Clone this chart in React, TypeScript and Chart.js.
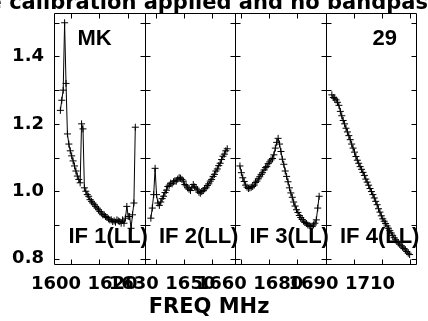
import React, { useEffect, useRef } from 'react';
import { Chart, registerables } from 'chart.js';

Chart.register(...registerables);

// ---- text ----
const TITLE = 'e calibration applied and no bandpass';
const X_TITLE = 'FREQ MHz';
const ANTENNA = 'MK';
const PLOT_NUMBER = '29';
const IF_LABELS = ['IF 1(LL)', 'IF 2(LL)', 'IF 3(LL)', 'IF 4(LL)'];

// ---- frequency axes ----
const IF_START_MHZ = [1594, 1626, 1658, 1690];
const IF_BANDWIDTH_MHZ = 32;
const CHANNEL_WIDTH_MHZ = 0.5;
const X_TICK_STEP_MHZ = 10;
const X_TICK_LABELS = [
  [1600, 1620],
  [1630, 1650],
  [1660, 1680],
  [1690, 1710],
];

// ---- amplitude axis ----
const Y_MIN = 0.784;
const Y_MAX = 1.529;
const Y_TICK_STEP = 0.1;
const Y_TICK_LABELS = [0.8, 1.0, 1.2, 1.4];

// ---- channel amplitudes (64 channels per IF, null = flagged) ----
const IF1_AMP = [
  null, null, null, null,
  1.24, 1.27, 1.30, 1.50, 1.32, 1.17, 1.14, 1.12, 1.105, 1.09,
  1.075, 1.06, 1.045, 1.035, 1.025, 1.20, 1.185, 1.01, 1.00, 0.99,
  0.985, 0.975, 0.97, 0.965, 0.96, 0.955, 0.95, 0.945, 0.94, 0.935,
  0.93, 0.93, 0.925, 0.922, 0.918, 0.915, 0.915, 0.91, 0.912, 0.908,
  0.915, 0.912, 0.91, 0.905, 0.915, 0.905, 0.92, 0.955, 0.925, 0.925,
  0.89, 0.93, 0.965, 1.19,
  null, null, null, null, null, null,
];

const IF2_AMP = [
  null, null, null, null,
  0.92, 0.95, 0.99, 1.068, 0.99, 0.965, 0.958, 0.968, 0.978, 0.985,
  0.996, 1.003, 1.014, 1.018, 1.024, 1.022, 1.028, 1.031, 1.03, 1.036,
  1.04, 1.039, 1.035, 1.03, 1.02, 1.016, 1.01, 1.006, 1.002, 1.012,
  1.02, 1.013, 1.009, 1.004, 0.997, 0.994, 0.999, 1.002, 1.007, 1.01,
  1.017, 1.022, 1.03, 1.035, 1.044, 1.05, 1.06, 1.066, 1.076, 1.083,
  1.094, 1.104, 1.11, 1.12, 1.126,
  null, null, null, null, null,
];

const IF3_AMP = [
  null, null, null,
  1.075, 1.055, 1.04, 1.029, 1.018, 1.012, 1.008, 1.01, 1.012, 1.014,
  1.018, 1.026, 1.03, 1.037, 1.043, 1.05, 1.055, 1.063, 1.07, 1.073,
  1.082, 1.087, 1.093, 1.097, 1.108, 1.128, 1.145, 1.157, 1.14, 1.118,
  1.095, 1.08, 1.06, 1.044, 1.028, 1.01, 0.995, 0.982, 0.968, 0.956,
  0.945, 0.937, 0.928, 0.922, 0.916, 0.911, 0.907, 0.904, 0.9, 0.898,
  0.896, 0.895, 0.9, 0.905, 0.915, 0.95, 0.985,
  null, null, null, null,
];

const IF4_AMP = [
  null, null, null, null,
  1.286, 1.278, 1.276, 1.271, 1.264, 1.255, 1.237, 1.224, 1.21, 1.2,
  1.187, 1.176, 1.165, 1.153, 1.14, 1.128, 1.116, 1.103, 1.092, 1.083,
  1.073, 1.065, 1.056, 1.047, 1.036, 1.027, 1.018, 1.008, 0.999, 0.99,
  0.98, 0.97, 0.96, 0.948, 0.938, 0.927, 0.918, 0.911, 0.904, 0.897,
  0.89, 0.883, 0.876, 0.869, 0.862, 0.856, 0.851, 0.847, 0.843, 0.838,
  0.834, 0.83, 0.826, 0.821, 0.816, 0.812,
  null, null, null, null,
];

const IF_AMPS = [IF1_AMP, IF2_AMP, IF3_AMP, IF4_AMP];

// ---- styling ----
const TICK_FONT = { family: "'DejaVu Sans', sans-serif", weight: 'bold' as const, size: 18 };
const LABEL_OFFSETS = [-15, -22, -19, -12];
const TICK_LEN = 5;

const decorPlugin = {
  id: 'decor',
  beforeDatasetsDraw(chart: any) {
    const ctx = chart.ctx;
    const ca = chart.chartArea;
    ctx.save();
    ctx.fillStyle = '#000';
    ctx.textBaseline = 'alphabetic';
    ctx.font = "bold 22px 'Liberation Sans', Arial, sans-serif";
    ctx.textAlign = 'left';
    ctx.fillText(ANTENNA, ca.left + 23.5, ca.top + 31.5);
    ctx.textAlign = 'right';
    ctx.fillText(PLOT_NUMBER, ca.right - 19, ca.top + 31.5);
    ctx.textAlign = 'left';
    IF_LABELS.forEach((lab, p) => {
      const s = chart.scales['x' + (p + 1)];
      ctx.fillText(lab, s.left + 14.5, ca.bottom - 21);
    });
    ctx.restore();
  },
  afterDatasetsDraw(chart: any) {
    const ctx = chart.ctx;
    const ca = chart.chartArea;
    const ys = chart.scales.y;
    const top = Math.round(ca.top) + 0.5;
    const bottom = Math.round(ca.bottom) + 0.5;
    ctx.save();
    ctx.strokeStyle = '#000';
    ctx.lineWidth = 1;
    ctx.beginPath();
    ctx.moveTo(Math.round(ca.left) + 0.5, top);
    ctx.lineTo(Math.round(ca.right) + 0.5, top);
    ctx.moveTo(Math.round(ca.left) + 0.5, bottom);
    ctx.lineTo(Math.round(ca.right) + 0.5, bottom);
    IF_START_MHZ.forEach((_, p) => {
      const s = chart.scales['x' + (p + 1)];
      const l = Math.round(s.left) + 0.5;
      const r = Math.round(s.right) + 0.5;
      ctx.moveTo(l, top);
      ctx.lineTo(l, bottom);
      ctx.moveTo(r, top);
      ctx.lineTo(r, bottom);
      ys.ticks.forEach((t: any) => {
        const py = Math.round(ys.getPixelForValue(t.value)) + 0.5;
        ctx.moveTo(l, py);
        ctx.lineTo(l + TICK_LEN, py);
        ctx.moveTo(r - TICK_LEN, py);
        ctx.lineTo(r, py);
      });
      s.ticks.forEach((t: any) => {
        const px = Math.round(s.getPixelForValue(t.value)) + 0.5;
        ctx.moveTo(px, bottom);
        ctx.lineTo(px, bottom - TICK_LEN);
        ctx.moveTo(px, top);
        ctx.lineTo(px, top + TICK_LEN);
      });
    });
    ctx.stroke();

    ctx.fillStyle = '#000';
    ctx.textBaseline = 'alphabetic';
    ctx.textAlign = 'center';
    ctx.font = "bold 21px 'DejaVu Sans', sans-serif";
    ctx.fillText(TITLE, chart.width / 2, 9);
    ctx.font = "bold 21px 'DejaVu Sans', sans-serif";
    ctx.fillText(X_TITLE, chart.width / 2 - 5, 313);
    ctx.restore();
  },
};

function buildConfig(): any {
  const scales: any = {};
  IF_START_MHZ.forEach((f0, p) => {
    scales['x' + (p + 1)] = {
      type: 'linear',
      position: 'bottom',
      stack: 'freq',
      stackWeight: 1,
      min: f0,
      max: f0 + IF_BANDWIDTH_MHZ,
      grid: { display: false, drawTicks: false },
      border: { display: false },
      afterFit: (s: any) => {
        s.height = 57;
        s.paddingLeft = 0;
        s.paddingRight = 0;
        s.paddingTop = 0;
        s.paddingBottom = 0;
      },
      ticks: {
        stepSize: X_TICK_STEP_MHZ,
        includeBounds: false,
        autoSkip: false,
        maxRotation: 0,
        minRotation: 0,
        padding: 10,
        labelOffset: LABEL_OFFSETS[p],
        color: '#000',
        font: TICK_FONT,
        callback: (v: any) => {
          const f = Math.round(Number(v));
          return X_TICK_LABELS[p].includes(f) ? String(f) : '';
        },
      },
    };
  });
  scales.y = {
    type: 'linear',
    position: 'left',
    min: Y_MIN,
    max: Y_MAX,
    grid: { display: false, drawTicks: false },
    border: { display: false },
    afterFit: (s: any) => {
      s.width = 54;
      s.paddingLeft = 0;
      s.paddingRight = 0;
      s.paddingTop = 0;
      s.paddingBottom = 0;
    },
    ticks: {
      stepSize: Y_TICK_STEP,
      includeBounds: false,
      autoSkip: false,
      padding: 10,
      color: '#000',
      font: TICK_FONT,
      callback: (v: any) => {
        const k = Math.round(Number(v) * 10);
        return Y_TICK_LABELS.some((t) => Math.round(t * 10) === k) ? (k / 10).toFixed(1) : '';
      },
    },
  };

  const datasets = IF_AMPS.map((amps, p) => ({
    label: IF_LABELS[p],
    data: amps
      .map((v, i) =>
        v == null ? null : { x: IF_START_MHZ[p] + CHANNEL_WIDTH_MHZ * (i + 0.5), y: v }
      )
      .filter((d) => d !== null),
    xAxisID: 'x' + (p + 1),
    yAxisID: 'y',
    borderColor: '#000',
    borderWidth: 1,
    tension: 0,
    fill: false,
    pointStyle: 'cross',
    pointRadius: 3.5,
    pointBorderColor: '#000',
    pointBackgroundColor: '#000',
    pointBorderWidth: 1,
  }));

  return {
    type: 'line',
    data: { datasets },
    options: {
      animation: false,
      responsive: false,
      devicePixelRatio: 1,
      layout: { padding: { top: 13, right: 12, bottom: 0, left: 0 } },
      plugins: {
        legend: { display: false },
        tooltip: { enabled: false },
        title: { display: false },
      },
      scales,
    },
    plugins: [decorPlugin],
  };
}

export default function App() {
  const ref = useRef<HTMLCanvasElement>(null);
  useEffect(() => {
    document.body.style.margin = '0';
    const chart = new Chart(ref.current as HTMLCanvasElement, buildConfig());
    return () => chart.destroy();
  }, []);
  return (
    <div style={{ width: 428, height: 321, background: '#fff' }}>
      <canvas ref={ref} width={428} height={321} style={{ display: 'block' }} />
    </div>
  );
}
